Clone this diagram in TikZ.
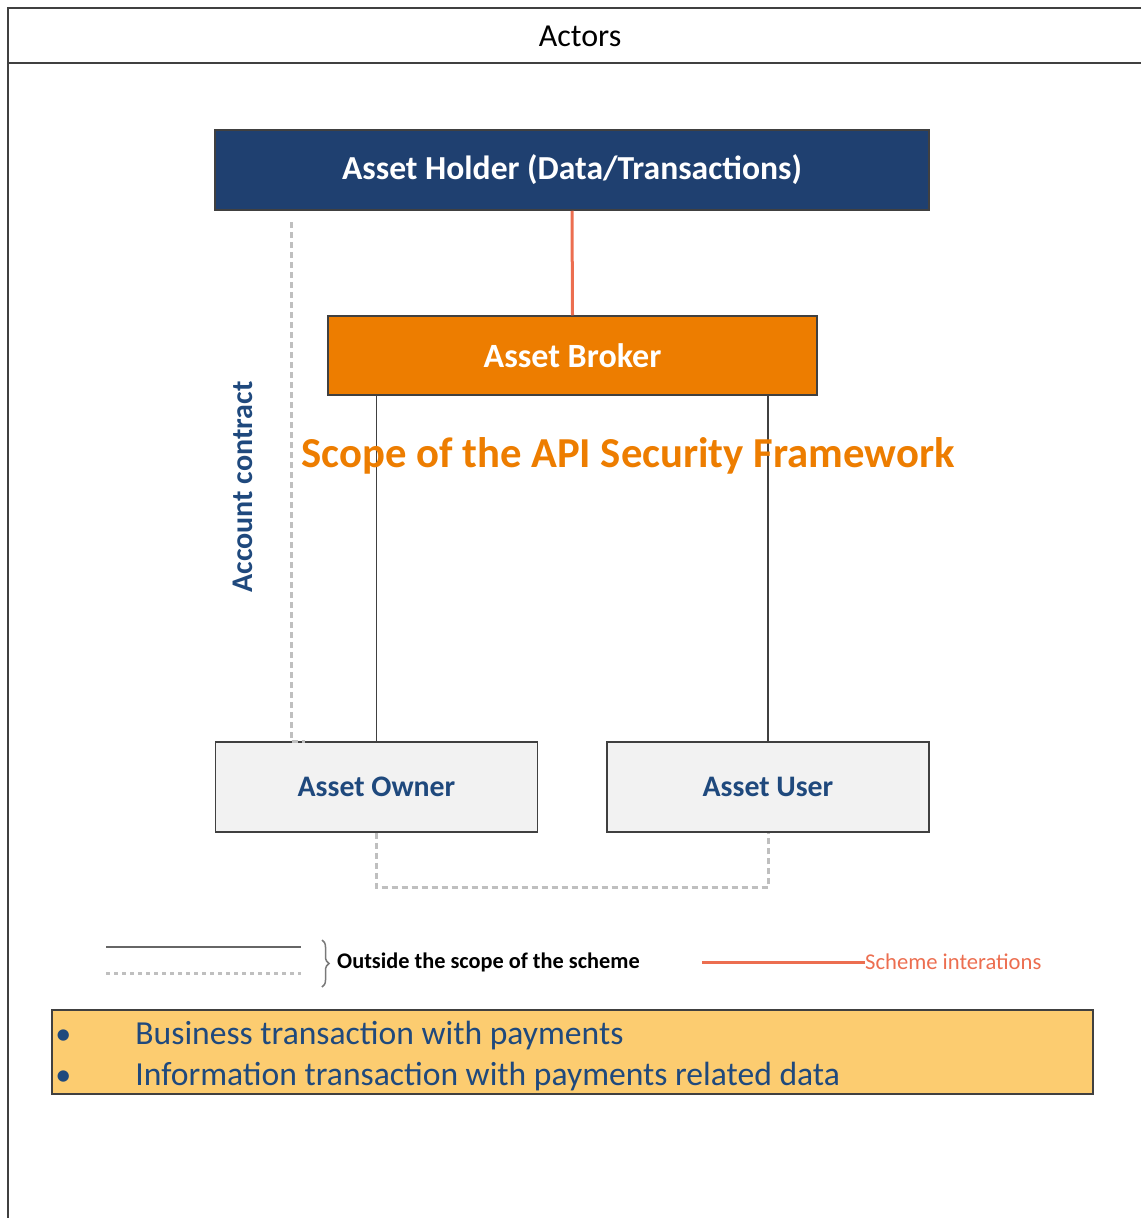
\documentclass[tikz,border=0pt]{standalone}
\usepackage{fontspec}
\setmainfont{Carlito}
\usepackage{tikz}
\usetikzlibrary{positioning,decorations.pathreplacing}
\definecolor{holderBlue}{RGB}{31,64,112}
\definecolor{brokerOrange}{RGB}{237,125,0}
\definecolor{actorText}{RGB}{31,73,125}
\definecolor{schemeRed}{RGB}{236,110,80}
\definecolor{outsideGray}{RGB}{191,191,191}
\definecolor{actorFill}{RGB}{242,242,242}
\definecolor{noteYellow}{RGB}{252,204,112}
\definecolor{frameGray}{RGB}{64,64,64}
\tikzstyle{pixelGrid} = [x = 1pt, y = -1pt]
\tikzstyle{frameLine} = [color=frameGray, line width=1.5pt]
\tikzstyle{actorBox} = [draw=frameGray, line width=1.5pt, inner sep=0pt]
\tikzstyle{holderStyle} = [actorBox, fill=holderBlue, text=white, font=\fontsize{33.6}{40}\selectfont\bfseries, minimum width=714pt, minimum height=80pt]
\tikzstyle{brokerStyle} = [actorBox, fill=brokerOrange, text=white, font=\fontsize{34}{40}\selectfont\bfseries, minimum width=489pt, minimum height=79pt]
\tikzstyle{endStyle} = [actorBox, fill=actorFill, text=actorText, font=\fontsize{29.8}{35}\selectfont\bfseries, minimum width=322pt, minimum height=90pt]
\tikzstyle{schemeLine} = [color=schemeRed, line width=3pt]
\tikzstyle{inScopeLine} = [color=frameGray, line width=1.3pt]
\tikzstyle{outScopeLine} = [color=outsideGray, line width=3pt, dash pattern=on 6pt off 4pt]
\newcommand{\noteBullet}{{\fontsize{32}{32}\selectfont\textbullet}}

\begin{document}
\begin{tikzpicture}[pixelGrid]
        \useasboundingbox (0,0) rectangle (1141,1218);
        % frame
        \draw[frameLine] (1141,8) -- (8,8) -- (8,1218);
        \draw[frameLine] (8,63) -- (1141,63);
        \node (actorsTitle) at (580,36) {\fontsize{32}{38}\selectfont Actors};

        % actors
        \node[holderStyle] (holder) at (572,170) {Asset Holder (Data/Transactions)};
        \node[brokerStyle] (broker) at (572.5,355.5) {Asset Broker};
        \node[endStyle] (owner) at (376.5,787) {Asset Owner};
        \node[endStyle] (user) at (768,787) {Asset User};

        \draw[schemeLine] (holder.south) -- (broker.north);
        \draw[inScopeLine] (broker.south -| owner.north) -- (owner.north);
        \draw[inScopeLine] (broker.south -| user.north) -- (user.north);

        \coordinate (contractTop) at (291,222);
        \draw[outScopeLine] (contractTop) -- (contractTop |- owner.north) -- ++(14,0);
        \draw[outScopeLine] (owner.south) -- ++(0,55) -| (user.south);

        \node[rotate=90, text=actorText, font=\fontsize{30}{36}\selectfont\bfseries] (contractLabel) at (243,487) {Account contract};
        \node[text=brokerOrange, font=\fontsize{42.7}{50}\selectfont\bfseries] (scopeLabel) at (628,456) {Scope of the API Security Framework};

        % legend
        \coordinate (solidStart) at (106,947);
        \coordinate (solidEnd) at (301,947);
        \coordinate (dotStart) at (106,973);
        \coordinate (dotEnd) at (301,973);
        \draw[color=frameGray!80, line width=1.5pt] (solidStart) -- (solidEnd);
        \draw[color=outsideGray, line width=3pt, dash pattern=on 4pt off 4pt] (dotStart) -- (dotEnd);
        \draw[color=frameGray!70, line width=1.5pt, decorate, decoration={brace, amplitude=7pt}] (322,940) -- (322,987);
        \node[anchor=west, inner sep=0pt, font=\fontsize{22.3}{26}\selectfont\bfseries] (outsideLabel) at (337,962) {Outside the scope of the scheme};
        \coordinate (schemeStart) at (702,962);
        \node[anchor=west, inner sep=0pt, text=schemeRed, font=\fontsize{22.6}{26}\selectfont] (schemeLabel) at (865,962) {Scheme interations};
        \draw[schemeLine] (schemeStart) -- (schemeLabel.west);

        % note
        \node[draw=frameGray, line width=1.5pt, fill=noteYellow, minimum width=1041pt, minimum height=84pt, inner sep=0pt] (noteBox) at (572.5,1052) {};
        \node[anchor=west, inner sep=0pt, text=actorText, font=\fontsize{33.6}{41}\selectfont, align=left] (noteText) at ([xshift=4pt, yshift=-5pt]noteBox.west)
          {\begin{tabular}{@{}p{80pt}@{}l@{}}\noteBullet & Business transaction with payments\\ \noteBullet & Information transaction with payments related data\end{tabular}};
\end{tikzpicture}
\end{document}
